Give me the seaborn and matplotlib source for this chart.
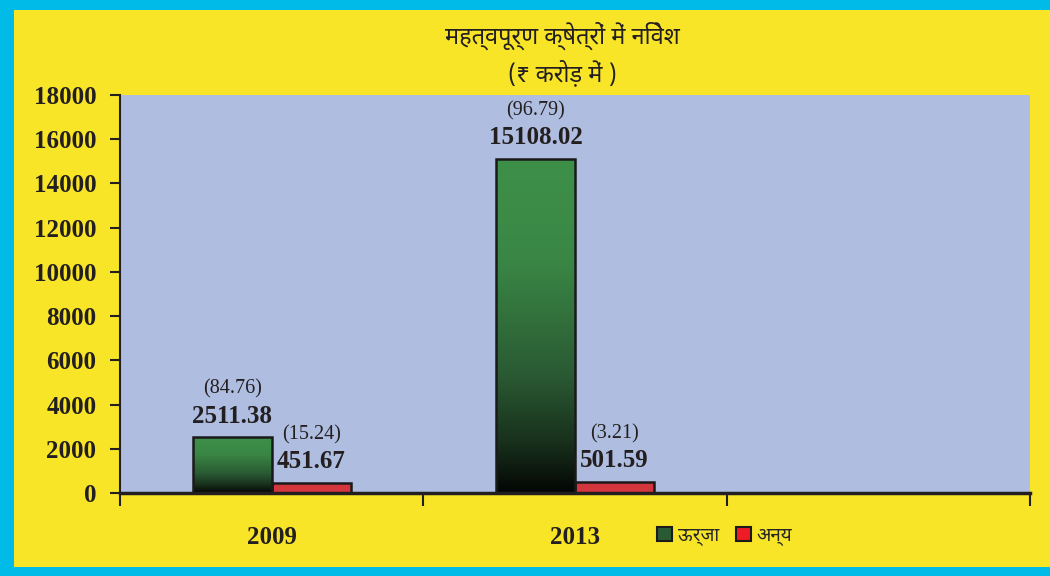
import numpy as np
import pandas as pd
import matplotlib
matplotlib.use("Agg")
import matplotlib.pyplot as plt
from matplotlib.colors import LinearSegmentedColormap
from matplotlib.patches import Rectangle, Patch
import seaborn as sns

# ---- data ----
years = ["2009", "2013"]
slots = ["2009", "2013", ""]
series_names = ["ऊर्जा", "अन्य"]
energy = [2511.38, 15108.02]
other = [451.67, 501.59]
energy_pct = [84.76, 96.79]
other_pct = [15.24, 3.21]
yticks = [0, 2000, 4000, 6000, 8000, 10000, 12000, 14000, 16000, 18000]
title_lines = ["महत्वपूर्ण क्षेत्रों में निवेश", "(₹ करोड़ में )"]

df = pd.DataFrame({
    "year": years * 2,
    "series": [series_names[0]] * 2 + [series_names[1]] * 2,
    "value": energy + other,
})

YELLOW = "#F9E528"
CYAN = "#00BBE8"
PLOT_BG = "#AFBDE0"
RED = "#EE1C25"
GREEN_TOP = "#3D8F48"
INK = "#231F20"

sns.set_theme(style="white")
plt.rcParams["font.family"] = ["Noto Sans Devanagari", "Lohit Devanagari", "Noto Sans", "DejaVu Sans"]
SERIF = ["Liberation Serif", "DejaVu Serif"]

fig = plt.figure(figsize=(10.5, 5.76), dpi=100)
fig.patch.set_facecolor(CYAN)
# yellow panel inside cyan border
fig.add_artist(Rectangle((14 / 1050, 9 / 576), (1050 - 14) / 1050, (576 - 19) / 576,
                         transform=fig.transFigure, facecolor=YELLOW, edgecolor="none", zorder=0))

ax = fig.add_axes([120 / 1050, 1 - 493 / 576, 910 / 1050, 398 / 576])
ax.set_facecolor(PLOT_BG)

sns.barplot(data=df, x="year", y="value", hue="series", order=slots,
            palette=[GREEN_TOP, RED], width=0.52, edgecolor="#1a1a1a", linewidth=1.8,
            legend=False, ax=ax, zorder=2)

cmap = LinearSegmentedColormap.from_list(
    "grn", [(0.0, "#3E9049"), (0.3, "#3A8745"), (0.65, "#2A5A33"), (0.85, "#18301C"), (1.0, "#040604")])
grad = np.linspace(0, 1, 256).reshape(-1, 1)

patches = [p for p in ax.patches if isinstance(p, Rectangle) and p.get_height() > 0]
green_patches = patches[:len(years)]
red_patches = patches[len(years):]
for p in green_patches:
    x0, y0 = p.get_x(), p.get_y()
    w, h = p.get_width(), p.get_height()
    im = ax.imshow(grad, cmap=cmap, aspect="auto", extent=(x0, x0 + w, y0, y0 + h),
                   origin="upper", zorder=2.1)
    im.set_clip_path(p)
    p.set_facecolor("none")
    p.set_zorder(2.2)

ax.set_xlim(-0.5, len(slots) - 0.5)
ax.set_ylim(0, 18000)

# value labels
for p, v, pc in zip(green_patches + red_patches, energy + other, energy_pct + other_pct):
    cx = p.get_x() + p.get_width() / 2
    top = p.get_y() + p.get_height()
    ax.annotate(f"{v:.2f}", (cx, top), xytext=(0, 7), textcoords="offset points",
                ha="center", va="bottom", fontsize=18, fontweight="bold",
                family=SERIF, color=INK, zorder=5)
    ax.annotate(f"({pc:.2f})", (cx, top), xytext=(0, 28), textcoords="offset points",
                ha="center", va="bottom", fontsize=14.5, family=SERIF,
                color=INK, zorder=5)

# axes styling
for s in ["top", "right"]:
    ax.spines[s].set_visible(False)
ax.spines["left"].set_color(INK)
ax.spines["left"].set_linewidth(1.5)
ax.spines["bottom"].set_color(INK)
ax.spines["bottom"].set_linewidth(2.5)

ax.set_yticks(yticks)
ax.set_yticklabels([str(t) for t in yticks], fontsize=18, fontweight="bold",
                   family=SERIF, color=INK)
ax.tick_params(axis="y", direction="out", length=7, width=1.5, color=INK, pad=10, left=True)

ax.set_xticks([i - 0.5 for i in range(len(slots) + 1)])
ax.set_xticklabels([])
ax.tick_params(axis="x", which="major", direction="out", length=9, width=1.5,
               color=INK, bottom=True)
ax.set_xticks(range(len(years)), minor=True)
ax.set_xticklabels(years, minor=True, fontsize=18, fontweight="bold",
                   family=SERIF, color=INK)
ax.tick_params(axis="x", which="minor", length=0, pad=24)
ax.set_xlabel("")
ax.set_ylabel("")
ax.grid(False)

# title
fig.text(562 / 1050, 1 - 36 / 576, title_lines[0], ha="center", va="center",
         fontsize=17, fontweight="bold", color=INK)
fig.text(562 / 1050, 1 - 74 / 576, title_lines[1], ha="center", va="center",
         fontsize=17, fontweight="bold", color=INK)

# legend
handles = [Patch(facecolor="#2A5A33", edgecolor="#1a1a1a", linewidth=1.5, label=series_names[0]),
           Patch(facecolor=RED, edgecolor="#1a1a1a", linewidth=1.5, label=series_names[1])]
leg = fig.legend(handles=handles, loc="center left", bbox_to_anchor=(657 / 1050, 1 - 536 / 576),
                 ncol=2, frameon=False, fontsize=13.5, handlelength=0.8, handleheight=0.8,
                 handletextpad=0.3, columnspacing=0.9, borderaxespad=0, borderpad=0)

fig.savefig("out.png", dpi=100, facecolor=fig.get_facecolor())
